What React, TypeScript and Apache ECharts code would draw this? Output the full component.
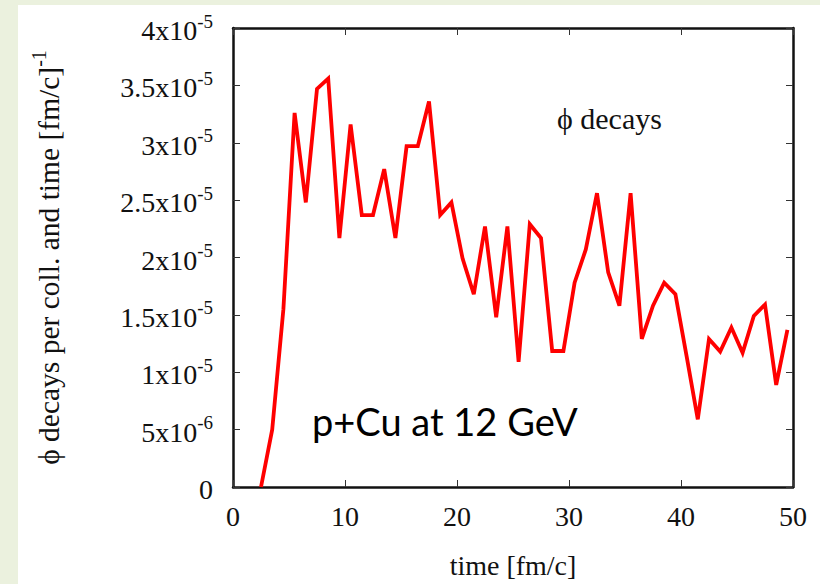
import React, { useEffect, useRef } from "react";
import * as echarts from "echarts";

// time [fm/c]
const times = [
  2.5, 3.5, 4.5, 5.5, 6.5, 7.5, 8.5, 9.5, 10.5, 11.5, 12.5, 13.5, 14.5, 15.5,
  16.5, 17.5, 18.5, 19.5, 20.5, 21.5, 22.5, 23.5, 24.5, 25.5, 26.5, 27.5, 28.5,
  29.5, 30.5, 31.5, 32.5, 33.5, 34.5, 35.5, 36.5, 37.5, 38.5, 39.5, 40.5, 41.5,
  42.5, 43.5, 44.5, 45.5, 46.5, 47.5, 48.5, 49.5,
];
// phi decays per coll. and time, in units of 1e-6
const decaysE6 = [
  0, 5.0, 15.5, 32.6, 24.8, 34.7, 35.6, 21.7, 31.6, 23.7, 23.7, 27.7, 21.7, 29.7,
  29.7, 33.6, 23.7, 24.8, 19.9, 16.8, 22.7, 14.8, 22.7, 10.9, 22.9, 21.7, 11.85,
  11.85, 17.8, 20.7, 25.6, 18.7, 15.8, 25.6, 12.9, 15.8, 17.8, 16.8, 11.4, 5.9,
  12.9, 11.8, 13.9, 11.7, 14.9, 15.9, 8.9, 13.7,
];
const xTicks = { min: 0, max: 50, interval: 10 };
const yTicks = { min: 0, max: 4e-5, interval: 5e-6 };

const SERIF = "'Liberation Serif', 'DejaVu Serif', serif";

function sciLabel(v: number): string {
  if (Math.abs(v) < 1e-12) return "{z|0}";
  const e = Math.floor(Math.log10(v) + 1e-9);
  const m = Math.round((v / Math.pow(10, e)) * 100) / 100;
  return `{m|${m}x10}{e|${e}}`;
}

export default function App() {
  const ref = useRef<HTMLDivElement>(null);
  useEffect(() => {
    if (!ref.current) return;
    const chart = echarts.init(ref.current, null, { renderer: "svg" });
    const data = times.map((t, i) => [t, decaysE6[i] * 1e-6]);
    const tickStyle = { color: "#333", width: 1 };
    const lineStyle = { color: "#111", width: 2.5 };
    chart.setOption({
      animation: false,
      grid: { left: 233, top: 28, right: 27, bottom: 96, show: false },
      xAxis: [
        {
          type: "value",
          ...xTicks,
          position: "bottom",
          axisLine: { show: true, onZero: false, lineStyle },
          axisTick: { show: true, inside: true, length: 7, lineStyle: tickStyle },
          splitLine: { show: false },
          axisLabel: {
            margin: 15,
            color: "#111",
            fontFamily: SERIF,
            fontSize: 28,
            lineHeight: 28,
          },
          name: "time [fm/c]",
          nameLocation: "middle",
          nameGap: 78,
          nameTextStyle: {
            color: "#111",
            fontFamily: SERIF,
            fontSize: 28,
            verticalAlign: "middle",
            align: "center",
          },
        },
        {
          type: "value",
          ...xTicks,
          position: "top",
          axisLine: { show: true, onZero: false, lineStyle },
          axisTick: { show: true, inside: true, length: 7, lineStyle: tickStyle },
          splitLine: { show: false },
          axisLabel: { show: false },
        },
      ],
      yAxis: [
        {
          type: "value",
          ...yTicks,
          position: "left",
          axisLine: { show: true, onZero: false, lineStyle },
          axisTick: { show: true, inside: true, length: 7, lineStyle: tickStyle },
          splitLine: { show: false },
          axisLabel: {
            margin: 20,
            formatter: (v: number) => sciLabel(v),
            rich: {
              m: {
                fontFamily: SERIF,
                fontSize: 28,
                lineHeight: 33,
                verticalAlign: "bottom",
                color: "#111",
              },
              e: {
                fontFamily: SERIF,
                fontSize: 19,
                lineHeight: 19,
                verticalAlign: "top",
                color: "#111",
              },
              z: {
                fontFamily: SERIF,
                fontSize: 28,
                lineHeight: 33,
                verticalAlign: "bottom",
                color: "#111",
              },
            },
          },
          name: "{m|\u03d5 decays per coll. and time [fm/c]}{e|-1}",
          nameLocation: "middle",
          nameRotate: 90,
          nameGap: 187,
          nameTextStyle: {
            align: "center",
            verticalAlign: "middle",
            rich: {
              m: {
                fontFamily: SERIF,
                fontSize: 29.5,
                lineHeight: 35,
                verticalAlign: "bottom",
                color: "#111",
              },
              e: {
                fontFamily: SERIF,
                fontSize: 20,
                lineHeight: 20,
                verticalAlign: "top",
                color: "#111",
              },
            },
          },
        },
        {
          type: "value",
          ...yTicks,
          position: "right",
          axisLine: { show: true, onZero: false, lineStyle },
          axisTick: { show: true, inside: true, length: 7, lineStyle: tickStyle },
          splitLine: { show: false },
          axisLabel: { show: false },
        },
      ],
      series: [
        {
          type: "line",
          data,
          xAxisIndex: 0,
          yAxisIndex: 0,
          showSymbol: false,
          symbol: "none",
          clip: true,
          lineStyle: { color: "#ff0000", width: 3.8, join: "miter" },
          z: 1,
        },
      ],
      graphic: [
        {
          type: "text",
          left: 557,
          top: 103,
          style: {
            text: "\u03d5 decays",
            fontFamily: SERIF,
            fontSize: 30,
            fill: "#111",
          },
        },
        {
          type: "text",
          left: 312,
          top: 402,
          style: {
            text: "p+Cu at 12 GeV",
            fontFamily: "Lato, 'Open Sans', sans-serif",
            fontSize: 38,
            fill: "#000",
          },
        },
      ],
    });
    return () => chart.dispose();
  }, []);
  return (
    <div
      style={{
        position: "fixed",
        left: 0,
        top: 0,
        width: 820,
        height: 584,
        background: "#EBF1DE",
        overflow: "hidden",
      }}
    >
      <div
        style={{
          position: "absolute",
          left: 18,
          top: 5,
          right: 0,
          bottom: 0,
          background: "#ffffff",
        }}
      />
      <div
        ref={ref}
        style={{ position: "absolute", left: 0, top: 0, width: 820, height: 584 }}
      />
    </div>
  );
}
